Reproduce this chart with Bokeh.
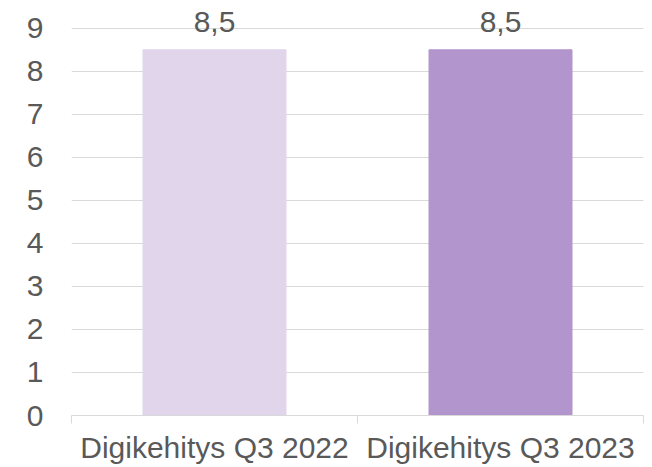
from bokeh.plotting import figure
from bokeh.models import ColumnDataSource, Range1d, FixedTicker, LabelSet
from bokeh.core.properties import value
from bokeh.embed import file_html
from bokeh.resources import INLINE

categories = ["Digikehitys Q3 2022", "Digikehitys Q3 2023"]
values = [8.5, 8.5]
value_labels = ["8,5", "8,5"]
colors = ["#E1D5EB", "#B395CD"]
y_ticks = [0, 1, 2, 3, 4, 5, 6, 7, 8, 9]

FONT = "Liberation Sans"
TXT = "#595959"
FS = "30px"

xs = [i + 0.5 for i in range(len(categories))]
src = ColumnDataSource(dict(x=xs, top=values, color=colors, label=value_labels))

p = figure(output_backend="svg", toolbar_location=None,
           frame_width=572, frame_height=407,
           x_range=Range1d(0, len(categories)), y_range=Range1d(0, 9.46),
           min_border_left=71, min_border_top=8, min_border_right=2, min_border_bottom=5)
p.outline_line_color = None
p.background_fill_color = "white"

p.vbar(x="x", top="top", width=0.5, color="color", source=src)

p.add_layout(LabelSet(x="x", y="top", text="label", source=src, y_offset=18,
                      text_align="center", text_baseline="alphabetic",
                      text_font=value(FONT), text_font_size=value(FS), text_color=value(TXT)))

# y axis
p.yaxis.ticker = FixedTicker(ticks=y_ticks)
p.yaxis.axis_line_color = None
p.yaxis.major_tick_line_color = None
p.yaxis.minor_tick_line_color = None
p.yaxis.major_label_standoff = 22
p.yaxis.major_label_text_font = FONT
p.yaxis.major_label_text_font_size = FS
p.yaxis.major_label_text_color = TXT
p.ygrid.grid_line_color = "#D9D9D9"
p.ygrid.grid_line_width = 1
p.xgrid.grid_line_color = None

# x axis
p.xaxis.ticker = FixedTicker(ticks=xs, minor_ticks=list(range(len(categories) + 1)))
p.xaxis.major_label_overrides = {x: c for x, c in zip(xs, categories)}
p.xaxis.axis_line_color = "#D9D9D9"
p.xaxis.major_tick_line_color = None
p.xaxis.minor_tick_line_color = "#D9D9D9"
p.xaxis.minor_tick_in = 0
p.xaxis.minor_tick_out = 8
p.xaxis.major_tick_in = 0
p.xaxis.major_tick_out = 0
p.xaxis.major_label_standoff = 7
p.xaxis.major_label_text_font = FONT
p.xaxis.major_label_text_font_size = FS
p.xaxis.major_label_text_color = TXT

open("out.html", "w").write(file_html(p, INLINE))
